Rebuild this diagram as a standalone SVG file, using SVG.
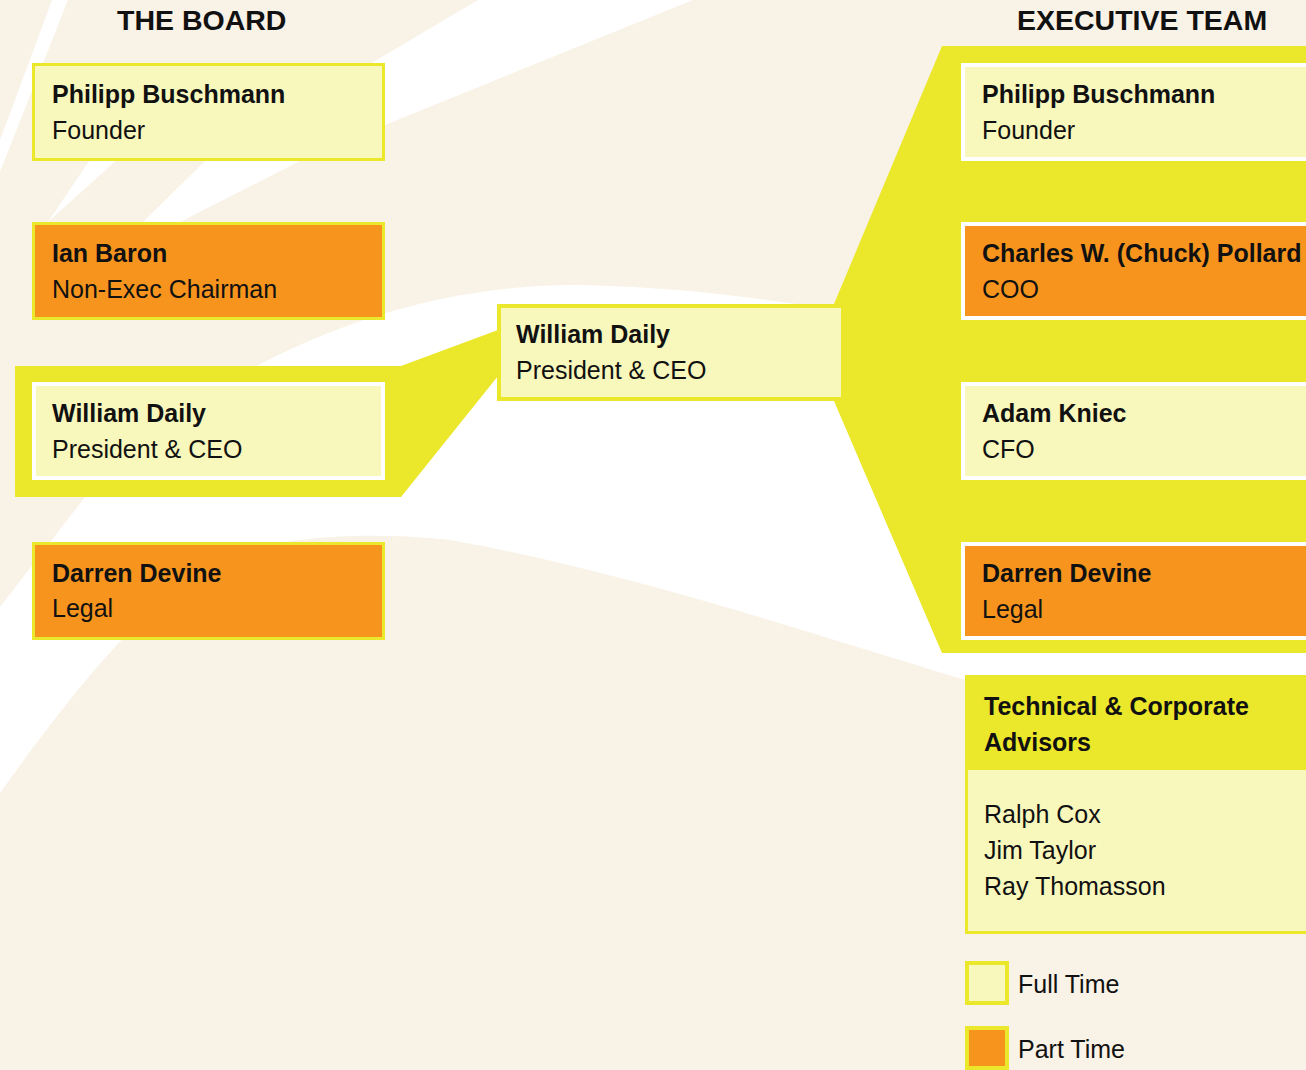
<svg xmlns="http://www.w3.org/2000/svg" width="1306" height="1070" viewBox="0 0 1306 1070">
<defs>
<style>
.bg{fill:#f9f2e6}
.sw{fill:#ffffff}
.band{fill:#ebe72b}
.ft{fill:#f8f7bc}
.pt{fill:#f7941e}
.by{stroke:#ebe72b;stroke-width:3}
.bw{stroke:#ffffff;stroke-width:4}
.cy{stroke:#ebe72b;stroke-width:4}
text{font-family:"Liberation Sans",Arial,Helvetica,sans-serif;fill:#111111;font-size:25px}
.n{font-weight:bold}
.h{font-weight:bold;font-size:28.5px}
</style>
</defs>
<rect class="bg" x="0" y="0" width="1306" height="1070"/>
<g id="background">
<polygon class="sw" points="52,0 68,0 0,172 0,140"/>
<polygon class="sw" points="478,0 693,0 385,125 300,161 180,222 90,300 143,222 205,161 380,58"/>
<polygon class="sw" points="48,222 110,130 150,130"/>
<path class="sw" d="M0,607 L85,497 C150,430 220,380 300,345 C400,300 500,284 580,285 C680,287 760,298 850,312 L1306,380 L1306,760 L965,680 C800,630 620,570 450,540 C380,532 300,535 250,550 C170,580 110,640 0,793 Z"/>
</g>
<text class="h" x="117" y="30">THE BOARD</text>
<text class="h" x="1017" y="30">EXECUTIVE TEAM</text>
<g id="connectors">
<polygon class="band" points="15,366 401,366 498,330 498,376 401,497 15,497"/>
<polygon class="band" points="942,46 1306,46 1306,653 942,653 834,401 834,304"/>
</g>
<g id="board-philipp">
<rect class="ft by" x="33.5" y="64.5" width="350" height="95"/>
<text class="n" x="52" y="103">Philipp Buschmann</text>
<text x="52" y="139">Founder</text>
</g>
<g id="board-ian">
<rect class="pt by" x="33.5" y="223.5" width="350" height="95"/>
<text class="n" x="52" y="262">Ian Baron</text>
<text x="52" y="298">Non-Exec Chairman</text>
</g>
<g id="board-william">
<rect class="ft bw" x="34" y="384" width="349" height="94"/>
<text class="n" x="52" y="422">William Daily</text>
<text x="52" y="458">President &amp; CEO</text>
</g>
<g id="board-darren">
<rect class="pt by" x="33.5" y="543.5" width="350" height="95"/>
<text class="n" x="52" y="582">Darren Devine</text>
<text x="52" y="617">Legal</text>
</g>
<g id="ceo">
<rect class="ft cy" x="499" y="306" width="344" height="93"/>
<text class="n" x="516" y="343">William Daily</text>
<text x="516" y="379">President &amp; CEO</text>
</g>
<g id="exec-philipp">
<rect class="ft bw" x="963" y="65" width="400" height="94"/>
<text class="n" x="982" y="103">Philipp Buschmann</text>
<text x="982" y="139">Founder</text>
</g>
<g id="exec-charles">
<rect class="pt bw" x="963" y="224" width="400" height="94"/>
<text class="n" x="982" y="262">Charles W. (Chuck) Pollard</text>
<text x="982" y="298">COO</text>
</g>
<g id="exec-adam">
<rect class="ft bw" x="963" y="384" width="400" height="94"/>
<text class="n" x="982" y="422">Adam Kniec</text>
<text x="982" y="458">CFO</text>
</g>
<g id="exec-darren">
<rect class="pt bw" x="963" y="544" width="400" height="94"/>
<text class="n" x="982" y="582">Darren Devine</text>
<text x="982" y="618">Legal</text>
</g>
<g id="advisors">
<rect class="ft by" x="966.5" y="676.5" width="400" height="256"/>
<rect class="band" x="965" y="675" width="400" height="95"/>
<text class="n" x="984" y="715">Technical &amp; Corporate</text>
<text class="n" x="984" y="751">Advisors</text>
<text x="984" y="823">Ralph Cox</text>
<text x="984" y="859">Jim Taylor</text>
<text x="984" y="895">Ray Thomasson</text>
</g>
<g id="legend">
<rect class="ft cy" x="967" y="963" width="40" height="40"/>
<text x="1018" y="993">Full Time</text>
<rect class="pt cy" x="967" y="1028" width="40" height="40"/>
<text x="1018" y="1058">Part Time</text>
</g>
</svg>
